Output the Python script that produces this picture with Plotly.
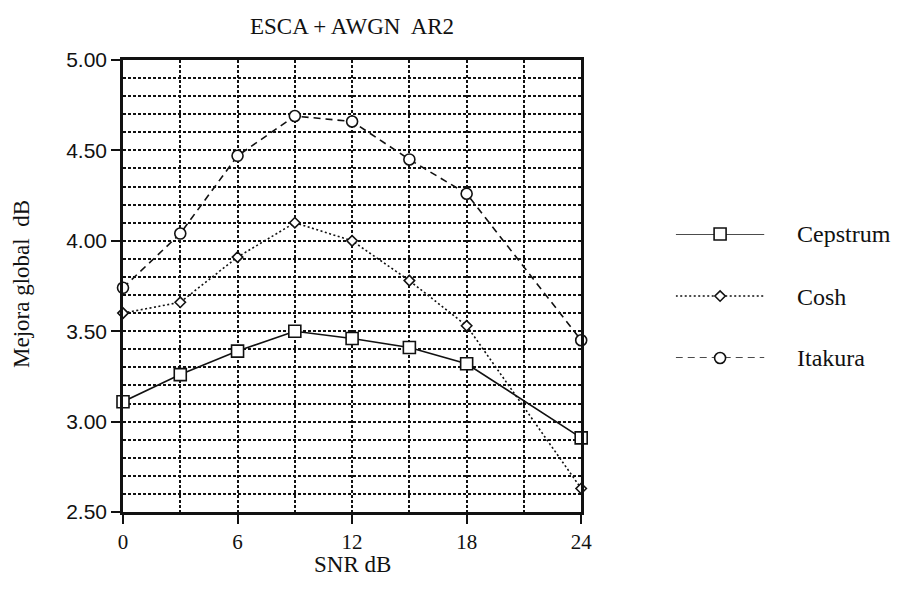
import plotly.graph_objects as go

# SNR values (dB) and improvement per distance measure
snr = [0, 3, 6, 9, 12, 15, 18, 24]
cepstrum = [3.11, 3.26, 3.39, 3.50, 3.46, 3.41, 3.32, 2.91]
cosh = [3.60, 3.66, 3.91, 4.10, 4.00, 3.78, 3.53, 2.63]
itakura = [3.74, 4.04, 4.47, 4.69, 4.66, 4.45, 4.26, 3.45]

series_names = ["Cepstrum", "Cosh", "Itakura"]
series_values = [cepstrum, cosh, itakura]
series_symbols = ["square", "diamond", "circle"]
series_dash = ["solid", "2px,2.5px", "7px,5px"]
series_msize = [12, 8, 11]

x_ticks = [0, 6, 12, 18, 24]
y_ticks = [2.5, 3.0, 3.5, 4.0, 4.5, 5.0]

SERIF = "Liberation Serif"
SANS = "Liberation Sans"
INK = "#111111"

fig = go.Figure()

for name, vals, sym, dash, ms in zip(series_names, series_values,
                                     series_symbols, series_dash, series_msize):
    fig.add_trace(go.Scatter(
        x=snr, y=vals, name=name, mode="lines+markers",
        xaxis="x", yaxis="y",
        line=dict(color=INK, width=1.6, dash=dash),
        marker=dict(symbol=sym, size=ms, color="white",
                    line=dict(color=INK, width=1.6)),
        cliponaxis=False, showlegend=False,
    ))

# legend rows: sample line + marker on a small axis pair, label beside it
legend_rows_y = [0.615, 0.476, 0.341]  # paper y of each legend row
for i, (name, sym, dash, ms) in enumerate(zip(series_names, series_symbols,
                                                series_dash, series_msize)):
    fig.add_trace(go.Scatter(
        x=[-1, 1], y=[i, i], mode="lines", xaxis="x2", yaxis="y2",
        line=dict(color=INK, width=1.6, dash=dash),
        cliponaxis=False, showlegend=False, hoverinfo="skip",
    ))
    fig.add_trace(go.Scatter(
        x=[0], y=[i], mode="markers", xaxis="x2", yaxis="y2",
        marker=dict(symbol=sym, size=ms, color="white",
                    line=dict(color=INK, width=1.6)),
        cliponaxis=False, showlegend=False, hoverinfo="skip",
    ))
    fig.add_annotation(
        x=0.894, y=legend_rows_y[i], xref="paper", yref="paper",
        text=name, showarrow=False, xanchor="left", yanchor="middle",
        font=dict(family=SERIF, size=24, color=INK),
    )

grid_dash = "3px,2px"
fig.update_layout(
    xaxis=dict(
        range=[0, 24], domain=[0, 0.6093], anchor="y",
        tickvals=x_ticks, ticktext=[str(v) for v in x_ticks],
        ticks="outside", ticklen=9, tickwidth=1.5, tickcolor=INK,
        tickfont=dict(family=SERIF, size=21, color=INK),
        showline=True, linewidth=2.5, linecolor=INK, mirror=True,
        showgrid=True, gridcolor=INK, gridwidth=1.5, griddash=grid_dash,
        minor=dict(dtick=3, tick0=0, showgrid=True, gridcolor=INK,
                   gridwidth=1.5, griddash=grid_dash, ticks=""),
        zeroline=False,
    ),
    yaxis=dict(
        range=[2.5, 5.0], anchor="x", tickvals=y_ticks,
        ticktext=[f"{v:.2f}" for v in y_ticks],
        ticks="outside", ticklen=9, tickwidth=1.5, tickcolor=INK,
        tickfont=dict(family=SANS, size=21, color=INK),
        showline=True, linewidth=2.5, linecolor=INK, mirror=True,
        showgrid=True, gridcolor=INK, gridwidth=1.5, griddash=grid_dash,
        minor=dict(dtick=0.1, tick0=2.5, showgrid=True, gridcolor=INK,
                   gridwidth=1.5, griddash=grid_dash, ticks=""),
        zeroline=False,
    ),
    xaxis2=dict(domain=[0.735, 0.853], range=[-1, 1], anchor="y2",
                visible=False, fixedrange=True),
    yaxis2=dict(domain=[0.3407, 0.615], range=[2, 0], anchor="x2",
                visible=False, fixedrange=True),
    width=898, height=598,
    margin=dict(l=123, r=20, t=60, b=86),
    paper_bgcolor="white", plot_bgcolor="white",
    showlegend=False,
)

fig.add_annotation(
    x=0.3046, y=1.075, xref="paper", yref="paper",
    text="ESCA + AWGN  AR2", showarrow=False,
    xanchor="center", yanchor="middle",
    font=dict(family=SERIF, size=23, color=INK),
)
fig.add_annotation(
    x=0.3046, y=-0.117, xref="paper", yref="paper",
    text="SNR dB", showarrow=False, xanchor="center", yanchor="middle",
    font=dict(family=SERIF, size=23, color=INK),
)
fig.add_annotation(
    x=-0.134, y=0.505, xref="paper", yref="paper",
    text="Mejora global  dB", showarrow=False, textangle=-90,
    xanchor="center", yanchor="middle",
    font=dict(family=SERIF, size=23, color=INK),
)

fig.write_html("out.html")
